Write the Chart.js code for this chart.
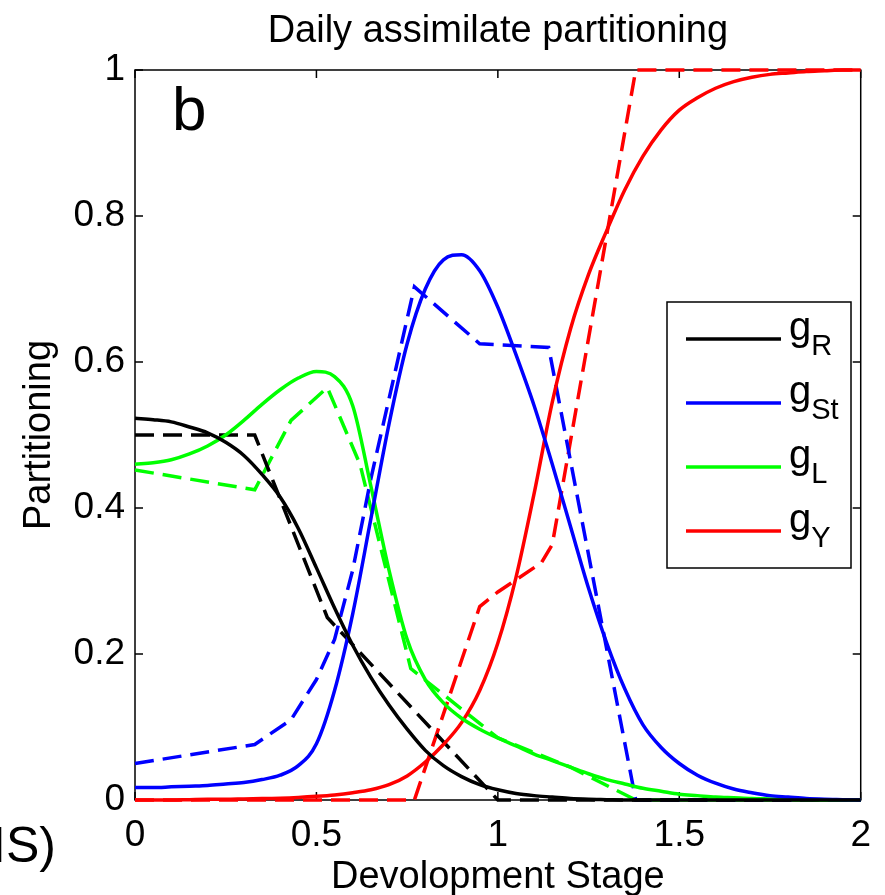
<!DOCTYPE html>
<html lang="en">
<head>
<meta charset="UTF-8">
<title>Daily assimilate partitioning</title>
<script src="https://cdn.jsdelivr.net/npm/chart.js"></script>
<style>
  body { margin: 0; background: #fff; }
</style>
</head>
<body>
<canvas id="myChart" width="885" height="895" style="width:885px;height:895px"></canvas>
<script>
// model curves (solid), sampled every 0.05 of development stage
const stageFit = [0, 0.05, 0.1, 0.15, 0.2, 0.25, 0.3, 0.35, 0.4, 0.45, 0.5, 0.55, 0.6, 0.65, 0.7, 0.75, 0.8, 0.85, 0.9, 0.95,
  1.0, 1.05, 1.1, 1.15, 1.2, 1.25, 1.3, 1.35, 1.4, 1.45, 1.5, 1.55, 1.6, 1.65, 1.7, 1.75, 1.8, 1.85, 1.9, 1.95, 2.0];
const gR_fit = [0.523, 0.521, 0.518, 0.511, 0.503, 0.49, 0.472, 0.446, 0.415, 0.372, 0.318, 0.263, 0.212, 0.168, 0.13, 0.097, 0.068, 0.047, 0.032, 0.021,
  0.014, 0.009, 0.006, 0.004, 0.002, 0.001, 0.0005, 0, 0, 0, 0, 0, 0, 0, 0, 0, 0, 0, 0, 0, 0];
const gSt_fit = [0.017, 0.017, 0.018, 0.019, 0.02, 0.022, 0.024, 0.028, 0.034, 0.047, 0.077, 0.15, 0.255, 0.385, 0.515, 0.625, 0.7, 0.74, 0.747, 0.725,
  0.675, 0.61, 0.54, 0.46, 0.375, 0.29, 0.215, 0.152, 0.103, 0.072, 0.05, 0.034, 0.023, 0.015, 0.01, 0.006, 0.004, 0.002, 0.001, 0.0005, 0];
const gL_fit = [0.46, 0.462, 0.466, 0.474, 0.485, 0.5, 0.52, 0.542, 0.562, 0.578, 0.587, 0.58, 0.54, 0.43, 0.315, 0.22, 0.165, 0.133, 0.112, 0.097,
  0.085, 0.074, 0.063, 0.054, 0.045, 0.036, 0.028, 0.022, 0.016, 0.012, 0.008, 0.006, 0.004, 0.003, 0.002, 0.0015, 0.001, 0.0005, 0, 0, 0];
const gY_fit = [0, 0, 0, 0.0005, 0.001, 0.001, 0.0015, 0.002, 0.0025, 0.0035, 0.005, 0.007, 0.01, 0.014, 0.021, 0.033, 0.052, 0.076, 0.106, 0.15,
  0.215, 0.305, 0.42, 0.545, 0.645, 0.72, 0.78, 0.836, 0.882, 0.918, 0.945, 0.962, 0.975, 0.984, 0.99, 0.994, 0.996, 0.998, 0.999, 1, 1];

// piecewise (dashed) curves
const gR_dataX = [0, 0.33, 0.53, 1.0, 2.0];
const gR_dataY = [0.5, 0.5, 0.25, 0, 0];
const gSt_dataX = [0, 0.33, 0.43, 0.5, 0.55, 0.6, 0.65, 0.77, 0.95, 1.14, 1.38, 2.0];
const gSt_dataY = [0.05, 0.076, 0.11, 0.165, 0.22, 0.315, 0.44, 0.703, 0.625, 0.62, 0, 0];
const gL_dataX = [0, 0.33, 0.43, 0.53, 0.62, 0.76, 1.0, 1.2, 1.38, 2.0];
const gL_dataY = [0.452, 0.425, 0.52, 0.565, 0.46, 0.18, 0.085, 0.045, 0, 0];
const gY_dataX = [0, 0.77, 0.95, 1.0, 1.12, 1.15, 1.38, 2.0];
const gY_dataY = [0, 0, 0.265, 0.285, 0.325, 0.35, 1, 1];

const xTicks = [0, 0.5, 1, 1.5, 2];
const yTicks = [0, 0.2, 0.4, 0.6, 0.8, 1];
const legendSubs = ['R', 'St', 'L', 'Y'];
const colours = ['#000000', '#0000ff', '#00ff00', '#ff0000'];

const FONT = "'Liberation Sans', Arial, Helvetica, sans-serif";

function pts(xs, ys) {
  return xs.map((x, i) => ({ x: x, y: ys[i] }));
}

const fits = [gR_fit, gSt_fit, gL_fit, gY_fit];
const dashX = [gR_dataX, gSt_dataX, gL_dataX, gY_dataX];
const dashY = [gR_dataY, gSt_dataY, gL_dataY, gY_dataY];

const datasets = [];
for (let i = 0; i < 4; i++) {
  datasets.push({
    data: pts(stageFit, fits[i]),
    borderColor: colours[i],
    borderWidth: 3.5,
    pointRadius: 0,
    fill: false,
    cubicInterpolationMode: 'monotone',
    clip: 6
  });
}
for (let i = 0; i < 4; i++) {
  datasets.push({
    data: pts(dashX[i], dashY[i]),
    borderColor: colours[i],
    borderWidth: 3.5,
    borderDash: [19, 9],
    pointRadius: 0,
    fill: false,
    tension: 0,
    clip: 6
  });
}

// box, inward ticks, texts and the legend
const decor = {
  id: 'decor',
  beforeDatasetsDraw(chart) {
    const { ctx, chartArea: a, scales } = chart;
    ctx.save();
    ctx.strokeStyle = '#000';
    ctx.lineWidth = 1.5;
    ctx.strokeRect(a.left, a.top, a.right - a.left, a.bottom - a.top);
    ctx.beginPath();
    xTicks.forEach(v => {
      const px = scales.x.getPixelForValue(v);
      ctx.moveTo(px, a.bottom); ctx.lineTo(px, a.bottom - 8);
      ctx.moveTo(px, a.top); ctx.lineTo(px, a.top + 8);
    });
    yTicks.forEach(v => {
      const py = scales.y.getPixelForValue(v);
      ctx.moveTo(a.left, py); ctx.lineTo(a.left + 8, py);
      ctx.moveTo(a.right, py); ctx.lineTo(a.right - 8, py);
    });
    ctx.stroke();
    ctx.restore();
  },
  afterDraw(chart) {
    const { ctx, chartArea: a } = chart;
    ctx.save();
    ctx.fillStyle = '#000';
    ctx.textAlign = 'center';
    ctx.textBaseline = 'alphabetic';
    ctx.font = '38px ' + FONT;
    ctx.fillText('Daily assimilate partitioning', (a.left + a.right) / 2, 42);
    ctx.fillText('Devolopment Stage', (a.left + a.right) / 2, 888);
    ctx.save();
    ctx.translate(50, (a.top + a.bottom) / 2);
    ctx.rotate(-Math.PI / 2);
    ctx.fillText('Partitioning', 0, 0);
    ctx.restore();
    ctx.textAlign = 'left';
    ctx.font = '62px ' + FONT;
    ctx.fillText('b', 172, 130);
    ctx.font = '50px ' + FONT;
    ctx.fillText('IS)', -8, 862);

    // legend
    const bx = 667, by = 302, bw = 184, bh = 266;
    ctx.fillStyle = '#fff';
    ctx.fillRect(bx, by, bw, bh);
    ctx.strokeStyle = '#000';
    ctx.lineWidth = 1.5;
    ctx.strokeRect(bx, by, bw, bh);
    legendSubs.forEach((s, i) => {
      const y = 339 + i * 64;
      ctx.strokeStyle = colours[i];
      ctx.lineWidth = 3.5;
      ctx.beginPath();
      ctx.moveTo(686, y); ctx.lineTo(781, y);
      ctx.stroke();
      ctx.fillStyle = '#000';
      ctx.font = '40px ' + FONT;
      ctx.fillText('g', 789, y + 1);
      const gw = ctx.measureText('g').width;
      ctx.font = '29px ' + FONT;
      ctx.fillText(s, 789 + gw, y + 16);
    });
    ctx.restore();
  }
};

const fmt = v => String(Number(v.toFixed(1)));

const ctx = document.getElementById('myChart');
new Chart(ctx, {
  type: 'line',
  data: { datasets: datasets },
  options: {
    responsive: false,
    animation: false,
    devicePixelRatio: 1,
    layout: { padding: { top: 70, right: 19, left: 0, bottom: 0 } },
    plugins: { legend: { display: false }, tooltip: { enabled: false } },
    scales: {
      x: {
        type: 'linear', min: 0, max: 2,
        ticks: { stepSize: 0.5, color: '#000', font: { family: FONT, size: 37 }, padding: 14, maxRotation: 0, callback: fmt },
        grid: { display: false, drawTicks: false },
        border: { display: false },
        afterFit(s) { s.height = 95; }
      },
      y: {
        type: 'linear', min: 0, max: 1,
        ticks: { stepSize: 0.2, color: '#000', font: { family: FONT, size: 37 }, padding: 10, callback: fmt },
        grid: { display: false, drawTicks: false },
        border: { display: false },
        afterFit(s) { s.width = 135; }
      }
    }
  },
  plugins: [decor]
});
</script>
</body>
</html>
